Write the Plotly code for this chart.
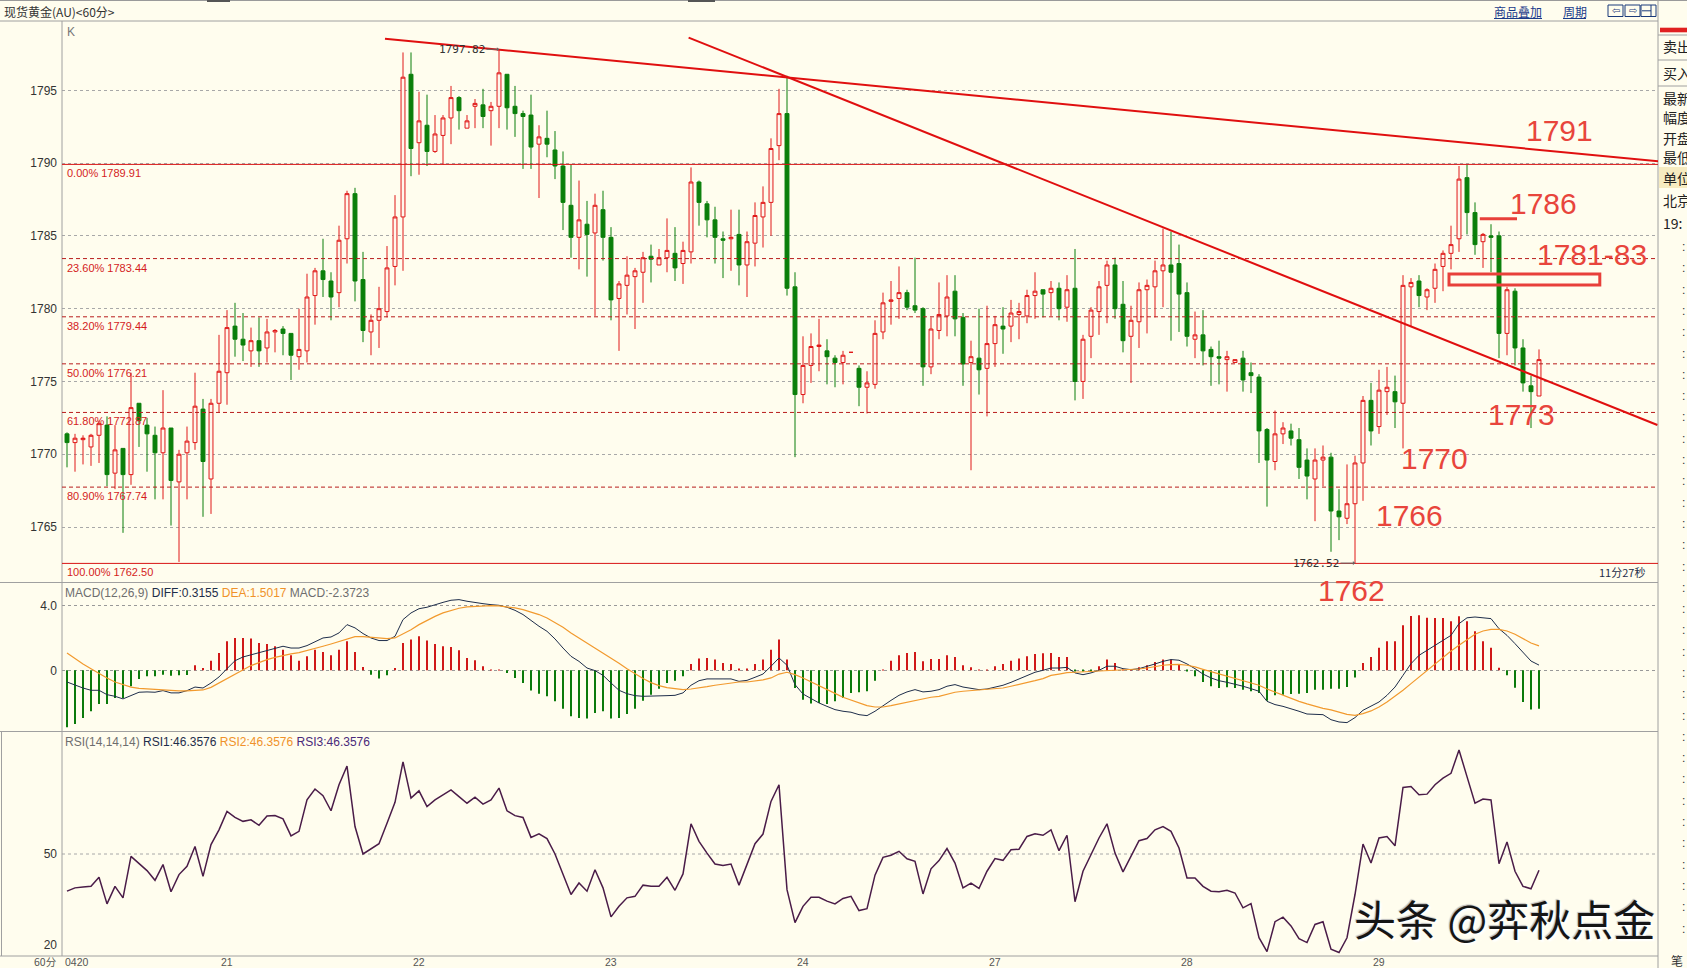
import plotly.graph_objects as go

W, H = 1687, 968
BG = "#fffdee"
RED = "#e01818"
GREEN = "#0a7f0a"
FONT = "Liberation Sans, Arial, sans-serif"
CJK = "Noto Sans CJK SC, sans-serif"

# ---------------- data ----------------
opens = [1771.4, 1770.8, 1771.0, 1770.5, 1771.3, 1772.0, 1768.7, 1770.4, 1768.6, 1773.5,
         1772.0, 1771.3, 1770.1, 1771.8, 1768.1, 1770.1, 1770.8, 1773.1, 1768.3, 1773.5,
         1775.6, 1778.8, 1777.9, 1777.1, 1777.8, 1777.3, 1778.4, 1778.6, 1778.3, 1776.7,
         1777.1, 1780.9, 1782.6, 1781.9, 1781.1, 1784.8, 1787.9, 1782.0, 1778.4, 1779.2,
         1779.8, 1782.9, 1786.3, 1796.1, 1791.4, 1792.6, 1790.8, 1791.9, 1793.1, 1794.5,
         1792.4, 1793.9, 1794.0, 1793.6, 1793.9, 1796.1, 1793.9, 1793.4, 1793.3, 1791.3,
         1791.7, 1790.9, 1789.8, 1787.1, 1784.9, 1785.8, 1785.2, 1786.8, 1784.9, 1780.7,
         1781.6, 1782.2, 1782.5, 1783.6, 1783.0, 1783.5, 1783.8, 1783.1, 1783.9, 1788.7,
         1787.2, 1786.1, 1784.8, 1784.8, 1785.1, 1783.0, 1784.5, 1786.3, 1787.3, 1791.2,
         1793.4, 1781.5, 1774.1, 1776.1, 1777.4, 1777.1, 1776.6, 1776.3, 1777.0, 1775.9,
         1774.6, 1774.8, 1778.4, 1780.5, 1780.7, 1781.1, 1780.2, 1780.0, 1776.0, 1778.5,
         1779.5, 1781.2, 1779.4, 1776.3, 1776.6, 1775.9, 1777.6, 1778.8, 1778.8, 1779.6,
         1779.5, 1780.9, 1781.3, 1781.1, 1781.4, 1780.1, 1781.4, 1775.0, 1778.1, 1779.8,
         1781.6, 1783.0, 1780.3, 1778.1, 1779.1, 1781.3, 1781.5, 1782.6, 1783.0, 1783.1,
         1781.1, 1777.9, 1778.2, 1777.2, 1776.7, 1776.5, 1776.3, 1776.6, 1775.6, 1775.3,
         1771.7, 1769.5, 1771.4, 1771.6, 1771.0, 1769.6, 1768.3, 1769.6, 1769.8, 1766.1,
         1765.6, 1766.6, 1769.4, 1773.7, 1771.9, 1774.3, 1774.3, 1773.5, 1781.5, 1781.9,
         1780.8, 1781.4, 1782.9, 1783.8, 1784.8, 1789.0, 1786.6, 1784.6, 1785.0, 1785.0,
         1778.3, 1781.2, 1777.3, 1774.7, 1774.0]
highs = [1771.5, 1771.4, 1771.3, 1771.4, 1772.3, 1772.6, 1772.0, 1770.4, 1775.6, 1773.5,
         1772.5, 1771.9, 1774.4, 1771.8, 1770.3, 1771.9, 1775.6, 1773.8, 1773.8, 1778.2,
         1779.9, 1780.4, 1779.7, 1778.7, 1779.4, 1779.3, 1778.6, 1778.8, 1778.3, 1780.0,
         1782.4, 1782.8, 1784.8, 1782.5, 1785.7, 1788.1, 1788.3, 1783.9, 1779.6, 1781.5,
         1784.3, 1787.8, 1797.6, 1797.6, 1794.9, 1794.7, 1793.3, 1793.3, 1795.3, 1794.6,
         1793.3, 1794.4, 1795.1, 1794.2, 1797.8, 1796.1, 1795.3, 1793.6, 1794.7, 1792.6,
         1793.6, 1792.2, 1790.8, 1789.9, 1788.8, 1787.4, 1787.9, 1788.1, 1785.6, 1781.9,
         1783.6, 1782.8, 1783.9, 1784.4, 1784.1, 1786.2, 1785.6, 1784.6, 1789.7, 1788.8,
         1787.4, 1787.0, 1785.3, 1786.8, 1786.8, 1785.3, 1787.3, 1788.4, 1791.7, 1795.1,
         1796.0, 1782.5, 1778.1, 1778.3, 1779.3, 1777.9, 1776.8, 1777.1, 1777.0, 1776.1,
         1775.7, 1779.2, 1781.1, 1781.9, 1782.9, 1781.3, 1783.5, 1780.1, 1779.4, 1781.8,
         1782.3, 1782.3, 1779.7, 1777.8, 1780.0, 1780.2, 1779.5, 1780.1, 1780.6, 1780.4,
         1781.3, 1782.5, 1781.3, 1781.9, 1781.8, 1782.3, 1784.1, 1778.2, 1780.1, 1781.9,
         1783.3, 1783.5, 1781.9, 1780.2, 1781.8, 1782.0, 1783.3, 1785.5, 1785.3, 1784.4,
         1781.8, 1779.8, 1779.9, 1777.4, 1777.8, 1777.1, 1776.5, 1777.1, 1776.3, 1775.5,
         1771.8, 1773.0, 1772.2, 1772.1, 1771.8, 1770.4, 1770.4, 1770.6, 1770.1, 1767.6,
         1769.3, 1769.9, 1774.0, 1774.9, 1775.8, 1776.0, 1775.4, 1782.3, 1782.1, 1782.3,
         1781.4, 1783.1, 1784.0, 1785.7, 1789.8, 1789.9, 1787.3, 1785.2, 1785.8, 1785.3,
         1781.5, 1781.4, 1777.9, 1775.4, 1777.2]
lows = [1769.1, 1768.8, 1769.3, 1769.2, 1769.4, 1767.8, 1767.6, 1764.6, 1767.9, 1770.5,
        1768.8, 1766.9, 1766.9, 1765.1, 1762.6, 1766.9, 1770.3, 1765.7, 1765.9, 1772.9,
        1773.4, 1776.7, 1776.4, 1776.0, 1776.0, 1776.3, 1777.0, 1776.8, 1775.1, 1775.8,
        1776.3, 1778.9, 1780.8, 1779.2, 1780.1, 1783.1, 1780.5, 1777.7, 1776.8, 1777.3,
        1779.4, 1781.6, 1782.6, 1789.1, 1789.2, 1789.8, 1790.7, 1789.9, 1791.3, 1792.3,
        1792.4, 1792.4, 1792.4, 1791.2, 1792.4, 1792.3, 1791.8, 1789.6, 1789.6, 1787.6,
        1790.4, 1788.9, 1785.4, 1783.5, 1782.7, 1782.2, 1779.5, 1783.3, 1779.2, 1777.1,
        1779.6, 1778.6, 1780.4, 1781.8, 1783.0, 1782.5, 1781.9, 1781.7, 1783.1, 1785.7,
        1784.9, 1783.1, 1782.1, 1782.6, 1781.6, 1780.8, 1782.9, 1784.2, 1785.0, 1790.2,
        1780.9, 1769.8, 1773.5, 1774.9, 1775.7, 1774.8, 1774.6, 1774.8, 1777.0, 1773.3,
        1772.8, 1774.5, 1777.9, 1778.9, 1779.3, 1779.9, 1779.7, 1774.7, 1775.5, 1777.9,
        1778.1, 1778.1, 1774.7, 1768.9, 1774.1, 1772.6, 1776.0, 1776.9, 1777.7, 1777.9,
        1779.0, 1779.3, 1779.4, 1779.5, 1779.2, 1779.1, 1773.7, 1773.8, 1776.6, 1778.2,
        1779.0, 1779.3, 1777.0, 1774.9, 1777.3, 1778.3, 1779.4, 1780.1, 1777.8, 1778.4,
        1777.4, 1776.6, 1776.1, 1774.7, 1774.8, 1774.3, 1776.3, 1774.3, 1774.2, 1769.4,
        1766.4, 1768.9, 1770.7, 1770.6, 1768.3, 1766.9, 1765.4, 1767.8, 1763.3, 1764.1,
        1765.2, 1762.5, 1766.8, 1770.6, 1771.4, 1772.7, 1771.8, 1770.4, 1778.8, 1780.1,
        1779.9, 1780.4, 1781.2, 1782.7, 1783.9, 1785.1, 1783.7, 1782.8, 1782.5, 1776.6,
        1776.8, 1776.1, 1774.3, 1771.8, 1774.0]
closes = [1770.8, 1771.1, 1771.1, 1771.3, 1772.1, 1768.6, 1770.3, 1768.6, 1773.2, 1772.3,
          1771.4, 1770.1, 1771.8, 1768.2, 1770.0, 1770.9, 1773.3, 1769.5, 1773.5, 1775.7,
          1778.7, 1777.9, 1777.5, 1777.8, 1777.1, 1778.4, 1778.5, 1778.3, 1776.8, 1777.2,
          1780.8, 1782.6, 1782.0, 1780.8, 1784.7, 1787.9, 1781.9, 1778.5, 1779.2, 1780.0,
          1782.8, 1786.3, 1795.9, 1791.0, 1792.9, 1790.8, 1792.0, 1793.1, 1794.5, 1793.6,
          1792.9, 1794.1, 1793.2, 1793.9, 1796.2, 1793.8, 1793.4, 1793.2, 1791.1, 1791.8,
          1791.3, 1789.8, 1787.3, 1784.9, 1786.1, 1785.1, 1787.1, 1784.9, 1780.6, 1781.7,
          1782.3, 1782.6, 1783.5, 1783.4, 1783.5, 1784.0, 1782.8, 1784.0, 1788.7, 1787.3,
          1786.1, 1784.9, 1784.7, 1784.9, 1783.0, 1784.6, 1786.4, 1787.3, 1791.0, 1793.4,
          1781.4, 1774.1, 1776.1, 1777.4, 1777.5, 1776.7, 1776.3, 1776.8, 1777.0, 1774.6,
          1774.9, 1778.3, 1780.4, 1780.6, 1781.1, 1780.1, 1779.9, 1776.0, 1778.6, 1779.6,
          1780.8, 1779.3, 1776.2, 1776.7, 1775.8, 1777.6, 1778.9, 1778.6, 1779.7, 1779.8,
          1780.9, 1781.2, 1781.0, 1781.4, 1780.0, 1781.3, 1775.0, 1777.9, 1779.9, 1781.5,
          1783.0, 1780.0, 1777.8, 1779.2, 1781.3, 1781.6, 1782.6, 1783.0, 1782.5, 1781.0,
          1778.1, 1778.2, 1777.1, 1776.7, 1776.6, 1776.7, 1776.5, 1775.1, 1775.4, 1771.6,
          1769.6, 1771.4, 1771.8, 1771.1, 1769.1, 1768.5, 1769.6, 1769.8, 1766.1, 1765.7,
          1766.6, 1769.4, 1773.7, 1771.6, 1774.4, 1774.6, 1773.6, 1781.6, 1781.8, 1780.9,
          1781.3, 1782.7, 1783.8, 1784.4, 1788.9, 1786.6, 1784.4, 1785.1, 1784.9, 1778.3,
          1781.3, 1777.3, 1774.9, 1774.3, 1776.5]

diff = [-0.72, -0.92, -1.09, -1.23, -1.23, -1.50, -1.60, -1.76, -1.54, -1.35,
        -1.33, -1.35, -1.25, -1.39, -1.39, -1.25, -1.03, -1.09, -0.78, -0.41,
        0.10, 0.59, 0.82, 0.96, 1.07, 1.21, 1.37, 1.48, 1.37, 1.37,
        1.52, 1.78, 1.99, 2.05, 2.30, 2.81, 2.61, 2.26, 1.99, 1.83,
        1.83, 2.09, 3.12, 3.53, 3.79, 3.88, 4.04, 4.18, 4.31, 4.35,
        4.25, 4.16, 4.10, 4.04, 4.00, 3.88, 3.69, 3.43, 3.06, 2.71,
        2.40, 1.93, 1.37, 0.86, 0.55, 0.14, -0.02, -0.31, -0.78, -1.23,
        -1.44, -1.56, -1.60, -1.60, -1.60, -1.56, -1.54, -1.39, -0.92, -0.64,
        -0.53, -0.53, -0.53, -0.53, -0.68, -0.62, -0.43, -0.23, 0.25, 0.76,
        0.31, -0.88, -1.46, -1.74, -2.01, -2.22, -2.42, -2.52, -2.58, -2.73,
        -2.79, -2.52, -2.17, -1.85, -1.54, -1.33, -1.19, -1.33, -1.29, -1.19,
        -0.98, -0.88, -1.03, -1.09, -1.19, -1.15, -1.03, -0.92, -0.74, -0.53,
        -0.33, -0.12, 0.00, 0.14, 0.14, 0.18, -0.16, -0.27, -0.16, 0.00,
        0.25, 0.25, 0.10, 0.04, 0.10, 0.23, 0.39, 0.55, 0.66, 0.62,
        0.39, 0.10, -0.23, -0.47, -0.64, -0.74, -0.84, -0.98, -1.13, -1.29,
        -1.91, -2.11, -2.22, -2.36, -2.52, -2.69, -2.73, -2.73, -3.04, -3.18,
        -3.22, -2.91, -2.46, -2.22, -1.95, -1.54, -1.03, -0.31, 0.41, 0.92,
        1.23, 1.54, 1.85, 2.15, 2.87, 3.23, 3.28, 3.23, 3.18, 2.56,
        2.15, 1.64, 1.07, 0.57, 0.32]
dea = [1.07, 0.72, 0.39, 0.10, -0.21, -0.47, -0.72, -0.88, -1.03, -1.11,
       -1.15, -1.17, -1.19, -1.23, -1.27, -1.27, -1.23, -1.21, -1.05, -0.78,
       -0.47, -0.21, 0.06, 0.29, 0.47, 0.66, 0.80, 0.92, 1.01, 1.09,
       1.21, 1.33, 1.48, 1.62, 1.78, 1.95, 2.07, 2.07, 2.03, 1.99,
       1.95, 1.99, 2.24, 2.50, 2.81, 3.08, 3.32, 3.53, 3.69, 3.82,
       3.90, 3.94, 3.98, 3.98, 3.96, 3.92, 3.84, 3.73, 3.59, 3.43,
       3.22, 2.95, 2.65, 2.30, 1.99, 1.66, 1.37, 1.09, 0.76, 0.43,
       0.10, -0.21, -0.51, -0.76, -0.94, -1.07, -1.15, -1.19, -1.15, -1.09,
       -1.01, -0.92, -0.84, -0.76, -0.72, -0.72, -0.66, -0.59, -0.47, -0.23,
       -0.12, -0.27, -0.47, -0.72, -0.94, -1.19, -1.42, -1.66, -1.83, -2.01,
       -2.17, -2.26, -2.26, -2.17, -2.07, -1.95, -1.83, -1.74, -1.66, -1.60,
       -1.48, -1.35, -1.29, -1.25, -1.23, -1.21, -1.17, -1.09, -0.98, -0.88,
       -0.76, -0.64, -0.51, -0.31, -0.23, -0.14, -0.12, -0.10, -0.06, -0.02,
       0.00, 0.00, 0.02, 0.04, 0.08, 0.14, 0.23, 0.31, 0.35, 0.37,
       0.31, 0.21, 0.06, -0.08, -0.23, -0.35, -0.49, -0.62, -0.76, -0.92,
       -1.15, -1.35, -1.54, -1.74, -1.91, -2.07, -2.22, -2.34, -2.44, -2.56,
       -2.71, -2.77, -2.67, -2.50, -2.26, -1.95, -1.60, -1.23, -0.82, -0.41,
       0.00, 0.41, 0.82, 1.19, 1.54, 1.89, 2.22, 2.42, 2.52, 2.52,
       2.42, 2.22, 1.95, 1.68, 1.50]
macd = [-3.51, -3.30, -2.93, -2.52, -2.07, -2.07, -1.70, -1.70, -0.98, -0.53,
        -0.37, -0.37, -0.27, -0.33, -0.31, -0.29, 0.31, 0.14, 0.59, 1.07,
        1.78, 1.99, 1.99, 1.95, 1.68, 1.62, 1.48, 1.27, 0.92, 0.59,
        0.86, 1.27, 1.13, 0.92, 1.27, 1.78, 1.13, 0.21, -0.27, -0.51,
        -0.31, 0.14, 1.68, 1.89, 2.09, 1.83, 1.62, 1.48, 1.44, 1.23,
        0.76, 0.62, 0.25, 0.04, 0.02, -0.16, -0.47, -0.78, -1.25, -1.44,
        -1.60, -1.91, -2.36, -2.83, -2.93, -2.97, -2.63, -2.52, -2.97, -2.93,
        -2.69, -2.36, -1.87, -1.50, -1.13, -0.78, -0.64, -0.37, 0.39, 0.72,
        0.76, 0.66, 0.45, 0.39, 0.08, 0.10, 0.39, 0.66, 1.27, 1.89,
        0.66, -1.09, -1.81, -2.05, -2.01, -2.07, -1.91, -1.70, -1.39, -1.35,
        -1.29, -0.64, 0.02, 0.59, 0.92, 1.07, 1.13, 0.55, 0.70, 0.70,
        0.92, 0.82, 0.31, 0.18, 0.02, 0.02, 0.25, 0.39, 0.59, 0.72,
        0.86, 1.01, 1.05, 1.07, 0.82, 0.82, -0.04, -0.06, -0.02, 0.25,
        0.66, 0.45, 0.02, 0.02, 0.18, 0.31, 0.51, 0.66, 0.66, 0.39,
        -0.06, -0.37, -0.72, -0.98, -1.09, -1.05, -1.09, -1.19, -1.29, -1.39,
        -1.87, -1.54, -1.50, -1.46, -1.44, -1.39, -1.19, -1.19, -1.13, -1.13,
        -1.03, -0.45, 0.45, 0.82, 1.39, 1.78, 1.78, 2.77, 3.34, 3.38,
        3.24, 3.22, 3.22, 3.02, 3.32, 3.02, 2.40, 1.78, 1.39, 0.16,
        -0.31, -1.07, -1.95, -2.42, -2.37]
rsi = [37.7, 38.8, 39.1, 39.3, 42.3, 33.5, 39.3, 35.5, 49.2, 47.0,
       44.5, 41.3, 46.5, 37.5, 43.2, 45.9, 52.5, 42.6, 53.1, 58.0,
       64.1, 62.1, 60.8, 61.3, 59.5, 62.6, 62.7, 61.6, 56.0, 57.5,
       67.9, 71.5, 69.3, 64.3, 72.9, 79.1, 59.1, 50.0, 51.8, 53.4,
       60.2, 67.1, 80.5, 68.5, 70.9, 65.7, 67.9, 69.6, 71.2, 69.0,
       66.8, 68.8, 66.5, 67.9, 71.8, 64.3, 62.7, 62.1, 55.5, 56.7,
       55.1, 50.0, 43.2, 36.6, 40.4, 37.7, 44.8, 38.8, 29.2, 32.7,
       35.5, 36.0, 39.7, 39.3, 39.3, 42.3, 38.0, 43.4, 60.0, 54.2,
       50.3, 46.7, 46.2, 46.7, 39.7, 46.5, 53.4, 56.6, 67.4, 72.9,
       38.2, 27.3, 32.7, 35.7, 35.7, 34.4, 33.5, 35.3, 36.0, 31.3,
       31.9, 43.0, 48.9, 49.6, 50.9, 48.4, 47.6, 36.8, 45.1, 47.8,
       51.8, 47.0, 38.8, 40.4, 38.6, 44.3, 48.5, 47.9, 51.4, 51.6,
       55.8, 56.7, 56.2, 58.0, 51.1, 56.2, 34.2, 44.3, 50.0, 55.3,
       60.0, 50.3, 44.1, 49.2, 54.4, 55.1, 58.0, 59.1, 57.5, 52.0,
       42.1, 42.1, 39.3, 37.7, 37.5, 38.0, 37.1, 32.2, 33.6, 22.3,
       17.7, 27.6, 29.1, 26.2, 22.0, 20.7, 26.7, 27.6, 18.5, 17.4,
       22.3, 36.6, 53.3, 47.0, 55.3, 55.8, 52.7, 72.0, 72.3, 69.6,
       69.8, 72.9, 75.1, 76.7, 84.4, 75.6, 66.8, 68.2, 67.9, 46.8,
       54.0, 44.3, 39.3, 38.5, 44.6]

day_idx = [-0.5, 19, 43, 67, 91, 115, 139, 163]
day_lbl = ["0420", "21", "22", "23", "24", "27", "28", "29"]
price_ticks = [1765, 1770, 1775, 1780, 1785, 1790, 1795]
fib_pct = ["0.00%", "23.60%", "38.20%", "50.00%", "61.80%", "80.90%", "100.00%"]
fib_lvl = [1789.91, 1783.44, 1779.44, 1776.21, 1772.87, 1767.74, 1762.50]
tl_x0 = [39.75, 77.7]
tl_y0 = [1798.54, 1798.62]
tl_x1 = [198.9, 198.8]
tl_y1 = [1790.12, 1772.01]
note_txt = ["1791", "1786", "1781-83", "1773", "1770", "1766", "1762"]
note_x = [186.6, 184.6, 190.6, 181.75, 170.9, 167.8, 160.6]
note_y = [1792.22, 1787.19, 1783.72, 1772.76, 1769.74, 1765.77, 4.94]
note_ax = ["y", "y", "y", "y", "y", "y", "y2"]
zone_x = [172.75, 191.6]
zone_y = [1781.63, 1782.38]
mark_x = [176.6, 181.25]
mark_y = 1786.18
hi_idx, hi_val = 54, 1797.82
lo_idx, lo_val = 161, 1762.52
macd_legend = ["MACD(12,26,9)", "DIFF:0.3155", "DEA:1.5017", "MACD:-2.3723"]
rsi_legend = ["RSI(14,14,14)", "RSI1:46.3576", "RSI2:46.3576", "RSI3:46.3576"]

# ---------------- geometry helpers ----------------
def PX(x):
    return x / W

def PY(y):
    return 1 - y / H

XL, XR = 62, 1658
TOP, M1, M2, BOT = 21, 582.5, 731.5, 956

def price_at(y):
    return 1795 - (y - 90.3) / 14.557

def macd_at(y):
    return (670.3 - y) / 16.25

def rsi_at(y):
    return 50 - (y - 854) / 3.023

def idx_at(x):
    return (x - 67) / 8

n = len(closes)
idx = list(range(n))

fig = go.Figure()
fig.add_trace(go.Candlestick(
    x=idx, open=opens, high=highs, low=lows, close=closes,
    increasing=dict(line=dict(color=RED, width=1), fillcolor="#fff6ec"),
    decreasing=dict(line=dict(color=GREEN, width=1), fillcolor=GREEN),
    whiskerwidth=0, xaxis="x", yaxis="y", hoverinfo="skip"))
fig.add_trace(go.Bar(
    x=idx, y=macd, width=0.25,
    marker=dict(color=["#d01818" if v >= 0 else "#0b7a0b" for v in macd], line=dict(width=0)),
    xaxis="x2", yaxis="y2", hoverinfo="skip"))
fig.add_trace(go.Scatter(x=idx, y=diff, mode="lines", line=dict(color="#1e2d4a", width=1),
                         xaxis="x2", yaxis="y2", hoverinfo="skip"))
fig.add_trace(go.Scatter(x=idx, y=dea, mode="lines", line=dict(color="#f29a2e", width=1.2),
                         xaxis="x2", yaxis="y2", hoverinfo="skip"))
fig.add_trace(go.Scatter(x=idx, y=rsi, mode="lines", line=dict(color="#4a1c48", width=1.5),
                         xaxis="x3", yaxis="y3", hoverinfo="skip"))

xcommon = dict(domain=[PX(XL), PX(XR)], range=[idx_at(XL), idx_at(XR)], showticklabels=False,
               showgrid=False, zeroline=False, showline=False, ticks="", fixedrange=True,
               automargin=False)
ycommon = dict(zeroline=False, showline=False, ticks="", ticklabelstandoff=4, automargin=False,
               tickfont=dict(family=FONT, size=12, color="#333333"), fixedrange=True)

fig.update_layout(
    template="none",
    width=W, height=H,
    margin=dict(l=0, r=0, t=0, b=0, pad=0),
    paper_bgcolor=BG, plot_bgcolor=BG,
    showlegend=False,
    font=dict(family=FONT, size=12, color="#333333"),
    xaxis=dict(**xcommon, anchor="y", rangeslider=dict(visible=False)),
    xaxis2=dict(**xcommon, anchor="y2"),
    xaxis3=dict(**xcommon, anchor="y3"),
    yaxis=dict(**ycommon, domain=[PY(M1), PY(TOP)], range=[price_at(M1), price_at(TOP)],
               tickvals=price_ticks, showgrid=True, gridcolor="#a8a8a8", griddash="dot", gridwidth=1),
    yaxis2=dict(**ycommon, domain=[PY(M2), PY(M1)], range=[macd_at(M2), macd_at(M1)],
                tickvals=[0, 4], ticktext=["0", "4.0"], showgrid=True, gridcolor="#999999",
                griddash="dot", gridwidth=1),
    yaxis3=dict(**ycommon, domain=[PY(BOT), PY(M2)], range=[rsi_at(BOT), rsi_at(M2)],
                tickvals=[20, 50], showgrid=False),
)

shapes = []
GRAY = "#a0a0a0"

def pline(x0, y0, x1, y1, color=GRAY, width=1, dash=None):
    d = dict(type="line", xref="paper", yref="paper", x0=PX(x0), y0=PY(y0), x1=PX(x1), y1=PY(y1),
             line=dict(color=color, width=width))
    if dash:
        d["line"]["dash"] = dash
    shapes.append(d)

def prect(x0, y0, x1, y1, fill, line=None):
    shapes.append(dict(type="rect", xref="paper", yref="paper", x0=PX(x0), y0=PY(y0), x1=PX(x1),
                       y1=PY(y1), fillcolor=fill, line=dict(color=line or fill, width=1 if line else 0),
                       layer="above"))

# frame lines
pline(0, 0.5, W, 0.5, "#9a9a9a")
pline(0, TOP, XR, TOP)
pline(0, M1, XR, M1)
pline(0, M2, XR, M2)
pline(0, BOT, XR, BOT)
pline(XL, TOP, XL, BOT)
pline(XR, 0, XR, H)
pline(1.5, M2, 1.5, BOT)
prect(207, 0, 230, 2, "#555555")
prect(688, 0, 715, 2, "#555555")

# RSI 50 guide
shapes.append(dict(type="line", xref="paper", yref="y3", x0=PX(XL), x1=PX(XR), y0=50, y1=50,
                   line=dict(color="#a8a8a8", width=1, dash="dot"), layer="below"))

# fibonacci lines
for p, lv in zip(fib_pct, fib_lvl):
    solid = p in ("0.00%", "100.00%")
    shapes.append(dict(type="line", xref="paper", yref="y", x0=PX(XL), x1=PX(XR), y0=lv, y1=lv,
                       line=dict(color="#d81414" if solid else "#b81c1c", width=1,
                                 dash="solid" if solid else "4px,3px")))

# trend lines
for a, b, c, d in zip(tl_x0, tl_y0, tl_x1, tl_y1):
    shapes.append(dict(type="line", xref="x", yref="y", x0=a, y0=b, x1=c, y1=d,
                       line=dict(color="#e00f0f", width=2)))

# target zone and marker
shapes.append(dict(type="rect", xref="x", yref="y", x0=zone_x[0], x1=zone_x[1], y0=zone_y[0],
                   y1=zone_y[1], line=dict(color="#e8403a", width=3)))
shapes.append(dict(type="line", xref="x", yref="y", x0=mark_x[0], x1=mark_x[1], y0=mark_y,
                   y1=mark_y, line=dict(color="#e8403a", width=3)))

# header icons and underline
for x0, x1 in [(1608, 1623), (1625, 1640), (1641, 1656)]:
    shapes.append(dict(type="rect", xref="paper", yref="paper", x0=PX(x0), x1=PX(x1), y0=PY(16.5),
                       y1=PY(5), line=dict(color="#1a3a7a", width=1)))
pline(1651, 5, 1651, 16.5, "#1a3a7a")
pline(1642, 10.8, 1651, 10.8, "#1a3a7a")
pline(1494, 18.5, 1542, 18.5, "#1a3a8a")
pline(1563, 18.5, 1586, 18.5, "#1a3a8a")

# right side panel
prect(1660, 27.7, W, 32.3, "#e02020")
pline(XR, 35, W, 35)
pline(XR, 60, W, 60)
pline(XR, 86, W, 86)
prect(1659, 167, W, 188, "#f6ebc0")

fig.update_layout(shapes=shapes)

ann = []

def add(**kw):
    kw.setdefault("showarrow", False)
    kw.setdefault("xanchor", "center")
    kw.setdefault("yanchor", "middle")
    ann.append(kw)

# fib labels
for p, lv in zip(fib_pct, fib_lvl):
    add(x=PX(65), xref="paper", y=lv, yref="y", text=f"{p} {lv:.2f}",
        xanchor="left", yanchor="top", yshift=-1,
        font=dict(family=FONT, size=11, color="#d41c1c"))
# big red notes
for t, x, y, ya in zip(note_txt, note_x, note_y, note_ax):
    add(x=x, xref="x", y=y, yref=ya, text=t, font=dict(family=FONT, size=30, color="#e8453c"))
# extreme markers
add(x=hi_idx, y=hi_val, xref="x", yref="y", text=f"{hi_val:.2f}", showarrow=True,
    ax=-37, ay=0, arrowhead=1, arrowsize=0.7, arrowwidth=1, arrowcolor="#666666",
    font=dict(family="DejaVu Sans Mono", size=11, color="#333333"))
add(x=lo_idx, y=lo_val, xref="x", yref="y", text=f"{lo_val:.2f}", showarrow=True,
    ax=-39, ay=0, arrowhead=1, arrowsize=0.7, arrowwidth=1, arrowcolor="#666666",
    font=dict(family="DejaVu Sans Mono", size=11, color="#333333"))
# panel captions
add(x=PX(65), y=PY(32), xref="paper", yref="paper", text="K", xanchor="left",
    font=dict(family=FONT, size=12, color="#777777"))
add(x=PX(1647), y=PY(572), xref="paper", yref="paper", text="11分27秒", xanchor="right",
    font=dict(family=CJK, size=11, color="#1e2d4a"))
mc = ["#6e6e6e", "#1e2d4a", "#f0922a", "#6e6e6e"]
add(x=PX(63), y=PY(593), xref="paper", yref="paper", xanchor="left",
    text=" ".join(f'<span style="color:{c}">{t}</span>' for c, t in zip(mc, macd_legend)),
    font=dict(family=FONT, size=12))
rc = ["#6e6e6e", "#1e2d4a", "#f0922a", "#4a2a7a"]
add(x=PX(63), y=PY(741.5), xref="paper", yref="paper", xanchor="left",
    text=" ".join(f'<span style="color:{c}">{t}</span>' for c, t in zip(rc, rsi_legend)),
    font=dict(family=FONT, size=12))
# date labels
for d, t in zip(day_idx, day_lbl):
    add(x=d, xref="x3", y=PY(961.5), yref="paper", text=t, xanchor="left",
        font=dict(family=FONT, size=10.5, color="#555555"))
add(x=PX(45), y=PY(961.5), xref="paper", yref="paper", text="60分",
    font=dict(family=CJK, size=10.5, color="#555555"))
# header
add(x=PX(2), y=PY(11.5), xref="paper", yref="paper", text="现货黄金(AU)&lt;60分&gt;",
    xanchor="left", font=dict(family=CJK, size=12, color="#333333"))
add(x=PX(1518), y=PY(11.5), xref="paper", yref="paper", text="商品叠加",
    font=dict(family=CJK, size=12, color="#1a3a8a"))
add(x=PX(1574.5), y=PY(11.5), xref="paper", yref="paper", text="周期",
    font=dict(family=CJK, size=12, color="#1a3a8a"))
add(x=PX(1615.5), y=PY(10.8), xref="paper", yref="paper", text="⇦",
    font=dict(family="DejaVu Sans", size=10, color="#1a3a7a"))
add(x=PX(1632.5), y=PY(10.8), xref="paper", yref="paper", text="⇨",
    font=dict(family="DejaVu Sans", size=10, color="#1a3a7a"))
# right side panel text (cut by the window edge, as in the source)
rp_lbl = ["卖出", "买入", "最新", "幅度", "开盘", "最低", "单位", "北京", "19:"]
rp_y = [46.5, 73, 98, 117, 138, 157, 178, 200, 223]
for t, y in zip(rp_lbl, rp_y):
    add(x=PX(1661), y=PY(y), xref="paper", yref="paper", text=t, xanchor="left",
        font=dict(family=CJK, size=14, color="#222222"))
yy = 247.0
while yy < 935:
    add(x=PX(1683), y=PY(yy), xref="paper", yref="paper", text=":",
        font=dict(family=FONT, size=12, color="#333333"))
    yy += 21.3
add(x=PX(1677), y=PY(960), xref="paper", yref="paper", text="笔",
    font=dict(family=CJK, size=12, color="#333333"))
# watermark
add(x=PX(1504), y=PY(917), xref="paper", yref="paper", text="头条 @弈秋点金",
    font=dict(family=CJK, size=42, color="#151515",
              shadow="2px 2px 2px #ffffff, -1px -1px 1px #bbbbbb"))

fig.update_layout(annotations=ann)
fig.write_html("out.html")
